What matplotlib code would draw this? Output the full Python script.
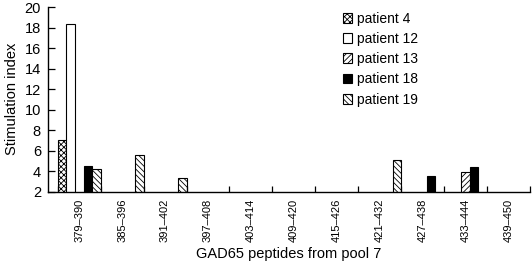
import numpy as np
import matplotlib
matplotlib.use('Agg')
import matplotlib.pyplot as plt

plt.rcParams['font.family'] = ['Liberation Sans', 'DejaVu Sans']
plt.rcParams['hatch.linewidth'] = 0.6

peptides = ['379–390', '385–396', '391–402', '397–408', '403–414', '409–420',
            '415–426', '421–432', '427–438', '433–444', '439–450']

# stimulation index per peptide (None = no bar shown)
patient_4 = [7.0, None, None, None, None, None, None, None, None, None, None]
patient_12 = [18.3, None, None, None, None, None, None, None, None, None, None]
patient_13 = [None, None, None, None, None, None, None, None, None, 3.9, None]
patient_18 = [4.5, None, None, None, None, None, None, None, 3.5, 4.4, None]
patient_19 = [4.2, 5.6, 3.3, None, None, None, None, 5.1, None, None, None]

series = [
    ('patient 4', patient_4, 'white', 'xxxxxx'),
    ('patient 12', patient_12, 'white', None),
    ('patient 13', patient_13, 'white', '//////'),
    ('patient 18', patient_18, 'black', None),
    ('patient 19', patient_19, 'white', '\\\\\\\\\\\\'),
]

fig, ax = plt.subplots(figsize=(5.32, 2.61), dpi=100)
fig.subplots_adjust(left=0.090, right=0.996, bottom=0.266, top=0.973)

x = np.arange(len(peptides))
width = 0.2
for k, (name, vals, color, hatch) in enumerate(series):
    vals = np.array([np.nan if v is None else v for v in vals], dtype=float)
    ax.bar(x + (k - 2) * width, vals, width, color=color, edgecolor='black',
           linewidth=0.8, hatch=hatch, label=name)

ax.set_ylim(2, 20)
ax.set_yticks(np.arange(2, 21, 2))
ax.set_xlim(-0.73, 10.39)

# boundary ticks, labels at category centres
ax.set_xticks(np.arange(len(peptides) + 1) - 0.5)
ax.set_xticklabels([])
ax.set_xticks(x, minor=True)
ax.set_xticklabels(peptides, minor=True, rotation=90, fontsize=8.0)
ax.tick_params(axis='x', which='major', direction='in', length=4, width=0.9)
ax.tick_params(axis='x', which='minor', length=0, pad=5)
ax.tick_params(axis='y', direction='in', length=5, width=0.9, labelsize=10.5, pad=5)

for s in ['top', 'right']:
    ax.spines[s].set_visible(False)
for s in ['left', 'bottom']:
    ax.spines[s].set_linewidth(1.0)

ax.set_ylabel('Stimulation index', fontsize=10.5, labelpad=4)
ax.set_xlabel('GAD65 peptides from pool 7', fontsize=10.5)
ax.xaxis.set_label_coords(0.5, -0.30)

ax.legend(loc='upper left', bbox_to_anchor=(0.60, 1.005), frameon=False,
          fontsize=10, handlelength=0.7, handleheight=0.7,
          handletextpad=0.35, labelspacing=0.45, borderaxespad=0)

fig.savefig('out.png', dpi=100)
